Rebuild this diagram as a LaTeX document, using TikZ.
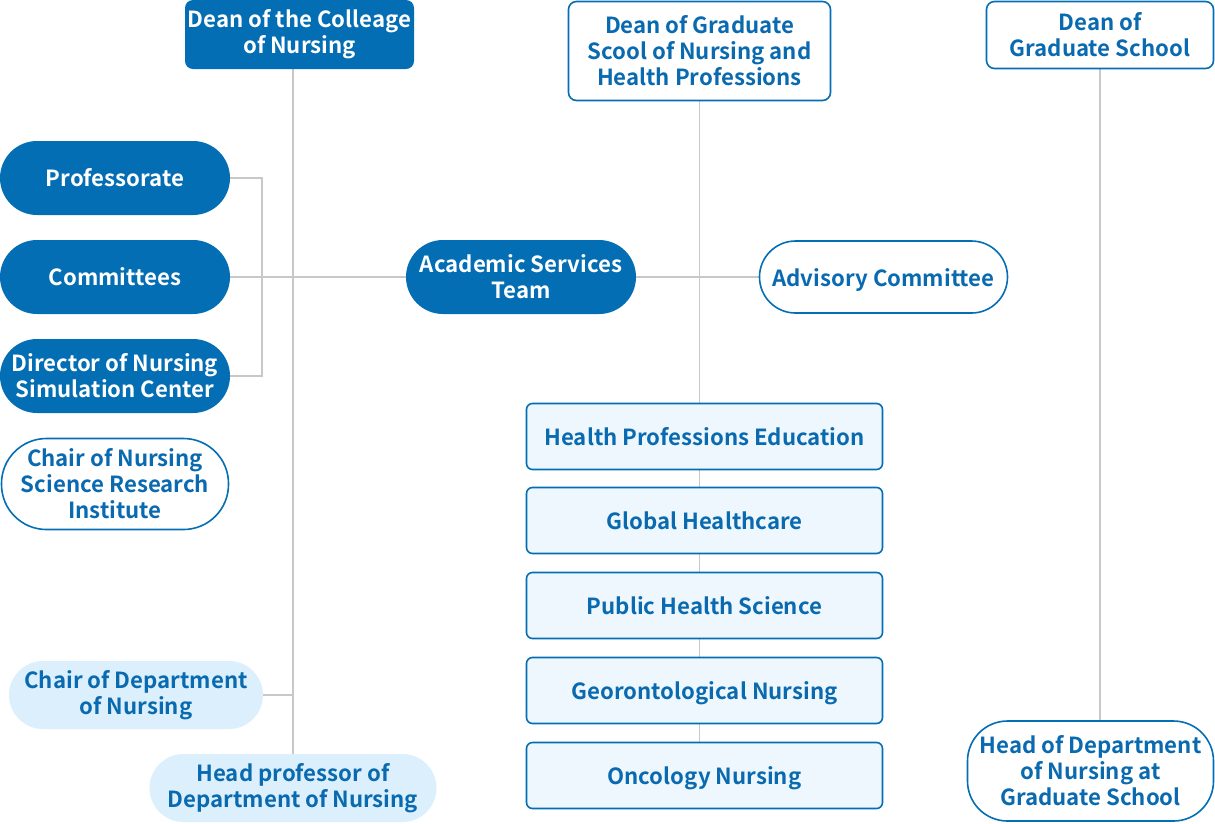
\documentclass[tikz,border=0pt]{standalone}
\usepackage{fontspec}
\setmainfont{Noto Sans CJK KR}[BoldFont={* Bold}]
\usetikzlibrary{backgrounds}
\definecolor{dark}{HTML}{046EB4}
\definecolor{tblue}{HTML}{0A6AB0}
\definecolor{chairfill}{HTML}{DBEFFC}
\definecolor{boxfill}{HTML}{EEF7FD}
\definecolor{conngray}{HTML}{C8C8C8}
\tikzset{
  base/.style={inner sep=0pt, align=center, font=\fontsize{22.2}{26}\selectfont\bfseries},
  darkbox/.style={base, fill=dark, text=white},
  outbox/.style={base, draw=dark, line width=1.6pt, fill=white, text=tblue},
  lightbox/.style={base, fill=chairfill, text=tblue},
  subbox/.style={base, draw=dark, line width=1.6pt, fill=boxfill, text=tblue, minimum width=356pt, minimum height=66pt, rounded corners=6pt, text depth=0pt},
  conn/.style={draw=conngray, line width=1.8pt},
}
\begin{document}
\begin{tikzpicture}[x=1pt,y=-1pt]
\useasboundingbox (0,0) rectangle (1215,823);
% top row
\node[darkbox, minimum width=229pt, minimum height=69pt, rounded corners=8pt] (deanC) at (299.5,34.5) {Dean of the Colleage\\of Nursing};
\node[outbox, minimum width=262pt, minimum height=99pt, rounded corners=8pt] (deanG) at (699.5,51) {Dean of Graduate\\Scool of Nursing and\\Health Professions};
\node[outbox, minimum width=227pt, minimum height=67pt, rounded corners=8pt] (deanS) at (1100,35) {Dean of\\Graduate School};
% left column
\node[darkbox, minimum width=230pt, minimum height=74pt, rounded corners=37pt] (prof) at (115,178) {Professorate};
\node[darkbox, minimum width=230pt, minimum height=74pt, rounded corners=37pt] (comm) at (115,277) {Committees};
\node[darkbox, minimum width=230pt, minimum height=74pt, rounded corners=37pt] (dir) at (115,376) {Director of Nursing\\Simulation Center};
\node[outbox, minimum width=227pt, minimum height=91pt, rounded corners=45pt] (chairR) at (115,484) {Chair of Nursing\\Science Research\\Institute};
\node[lightbox, minimum width=254pt, minimum height=68pt, rounded corners=34pt] (chairD) at (136,695) {Chair of Department\\of Nursing};
\node[lightbox, minimum width=287pt, minimum height=68pt, rounded corners=34pt] (headP) at (293,788) {Head professor of\\Department of Nursing};
% middle
\node[darkbox, minimum width=230pt, minimum height=74pt, rounded corners=37pt] (acad) at (521,277) {Academic Services\\Team};
\node[outbox, minimum width=248pt, minimum height=72pt, rounded corners=36pt, text depth=0pt] (adv) at (883.5,277) {Advisory Committee};
\node[subbox] (hpe) at (704.5,436.5) {Health Professions Education};
\node[subbox] (gh) at (704.5,520.5) {Global Healthcare};
\node[subbox] (phs) at (704.5,605.5) {Public Health Science};
\node[subbox] (geo) at (704.5,690.5) {Georontological Nursing};
\node[subbox] (onc) at (704.5,775.5) {Oncology Nursing};
% right
\node[outbox, minimum width=246pt, minimum height=100pt, rounded corners=40pt] (headD) at (1090.5,771) {Head of Department\\of Nursing at\\Graduate School};
% connectors
\begin{scope}[on background layer]
\draw[conn] (headP.north |- deanC.south) -- (headP.north);
\draw[conn] (comm.east) -- (acad.west);
\draw[conn] (prof.east) -- ++(32,0) |- (dir.east);
\draw[conn] (chairD.east) -- (chairD.east -| headP.north);
\draw[conn] (acad.east) -- (adv.west);
\draw[conn] (deanG.south) -- (deanG.south |- onc.north);
\draw[conn] (deanS.south) -- (deanS.south |- headD.north);
\end{scope}
\end{tikzpicture}
\end{document}
